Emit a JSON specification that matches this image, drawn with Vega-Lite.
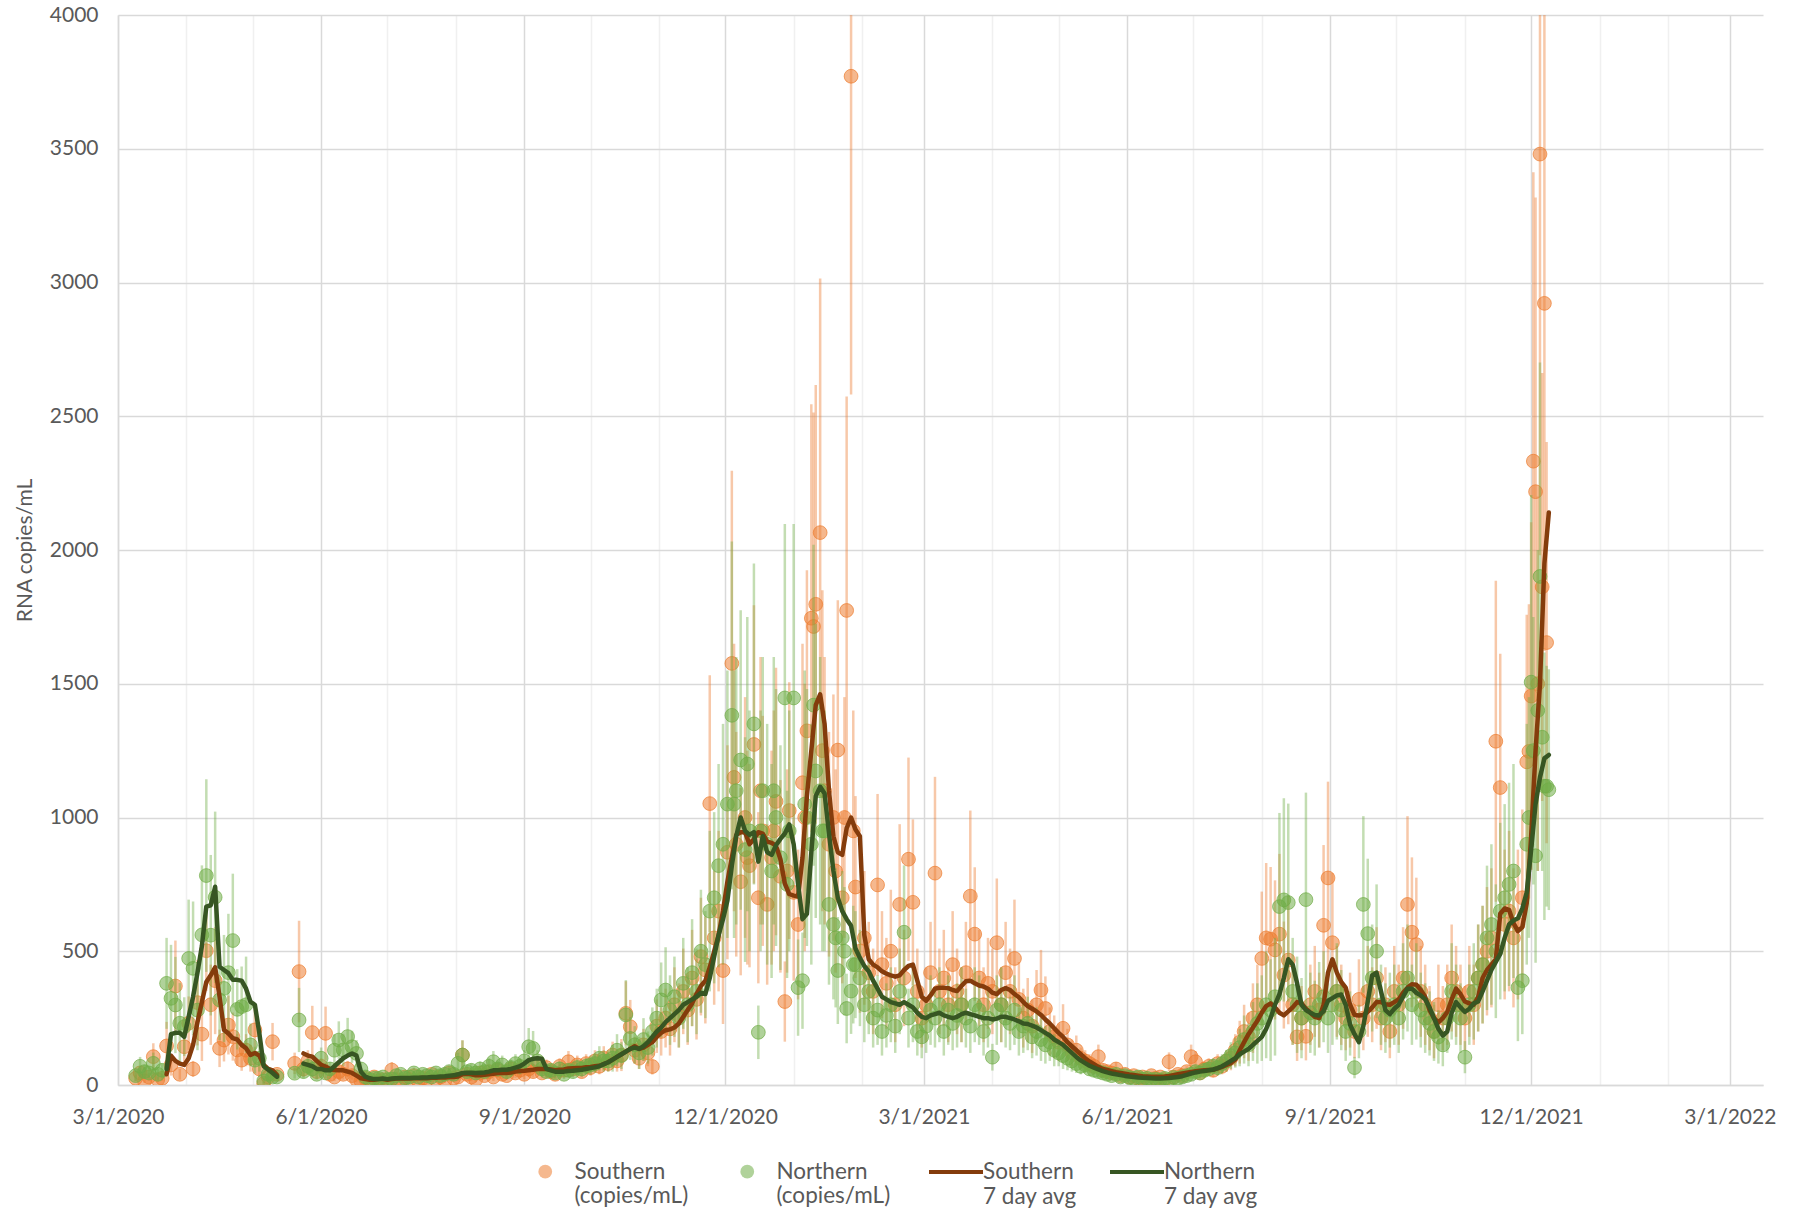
{
"$schema":"https://vega.github.io/schema/vega-lite/v6.json",
"width":1645,"height":1070,
"autosize":{"type":"none"},
"padding":{"left":118,"top":15,"right":36,"bottom":132},
"background":"white",
"config":{"view":{"stroke":null},"font":"Lato"},
"data":{"format":{"parse":{"d":"utc:'%Y-%m-%d'"}},"values":[
{"d":"2020-03-09","s":25,"se":12,"n":35,"ne":20},
{"d":"2020-03-11","s":45,"se":20,"n":70,"ne":35},
{"d":"2020-03-13","s":15,"se":8,"n":50,"ne":25},
{"d":"2020-03-15","s":30,"se":15,"n":45,"ne":20},
{"d":"2020-03-17","s":106,"se":50,"n":81,"ne":40},
{"d":"2020-03-19","s":20,"se":10,"n":40,"ne":20},
{"d":"2020-03-21","s":25,"se":10,"n":55,"ne":25},
{"d":"2020-03-23","s":146,"se":90,"n":380,"ne":170,"sa":40,"na":60},
{"d":"2020-03-25","s":75,"se":40,"n":324,"ne":200,"sa":110,"na":190},
{"d":"2020-03-27","s":370,"se":170,"n":299,"ne":180,"sa":90,"na":195},
{"d":"2020-03-29","s":40,"se":20,"n":231,"ne":150,"sa":80,"na":195},
{"d":"2020-03-31","s":143,"se":60,"n":218,"ne":110,"sa":75,"na":180},
{"d":"2020-04-02","s":231,"se":100,"n":473,"ne":220,"sa":100,"na":255},
{"d":"2020-04-04","s":60,"se":30,"n":436,"ne":250,"sa":150,"na":330},
{"d":"2020-04-06","s":308,"se":160,"n":280,"ne":150,"sa":235,"na":420},
{"d":"2020-04-08","s":190,"se":100,"n":561,"ne":260,"sa":310,"na":520},
{"d":"2020-04-10","s":502,"se":150,"n":783,"ne":360,"sa":385,"na":667},
{"d":"2020-04-12","s":300,"se":150,"n":560,"ne":300,"sa":410,"na":672},
{"d":"2020-04-14","s":390,"se":200,"n":702,"ne":320,"sa":440,"na":741},
{"d":"2020-04-16","s":137,"se":70,"n":318,"ne":150,"sa":330,"na":442},
{"d":"2020-04-18","s":168,"se":80,"n":361,"ne":200,"sa":206,"na":430},
{"d":"2020-04-20","s":224,"se":110,"n":420,"ne":220,"sa":193,"na":418},
{"d":"2020-04-22","s":181,"se":90,"n":540,"ne":250,"sa":175,"na":393},
{"d":"2020-04-24","s":131,"se":60,"n":283,"ne":150,"sa":170,"na":393},
{"d":"2020-04-26","s":93,"se":40,"n":293,"ne":150,"sa":150,"na":390},
{"d":"2020-04-28","s":130,"se":60,"n":300,"ne":180,"sa":137,"na":360},
{"d":"2020-04-30","s":100,"se":50,"n":150,"ne":80,"sa":112,"na":311},
{"d":"2020-05-02","s":206,"se":90,"n":93,"ne":50,"sa":120,"na":300},
{"d":"2020-05-04","s":60,"se":30,"n":100,"ne":50,"sa":110,"na":194},
{"d":"2020-05-06","s":6,"se":5,"n":15,"ne":10,"sa":75,"na":70},
{"d":"2020-05-08","s":30,"se":15,"n":40,"ne":20,"sa":60,"na":57},
{"d":"2020-05-10","s":162,"se":70,"n":30,"ne":15,"sa":55,"na":45},
{"d":"2020-05-12","s":40,"se":20,"n":30,"ne":15,"sa":37,"na":31},
{"d":"2020-05-20","s":81,"se":40,"n":44,"ne":20},
{"d":"2020-05-22","s":424,"se":190,"n":243,"ne":120},
{"d":"2020-05-24","s":60,"se":30,"n":50,"ne":25,"sa":118,"na":80},
{"d":"2020-05-26","s":90,"se":40,"n":70,"ne":30,"sa":110,"na":75},
{"d":"2020-05-28","s":196,"se":100,"n":60,"ne":30,"sa":106,"na":70},
{"d":"2020-05-30","s":50,"se":25,"n":40,"ne":20,"sa":90,"na":60},
{"d":"2020-06-01","s":70,"se":30,"n":100,"ne":40,"sa":75,"na":60},
{"d":"2020-06-03","s":193,"se":100,"n":45,"ne":20,"sa":69,"na":55},
{"d":"2020-06-05","s":40,"se":20,"n":60,"ne":25,"sa":60,"na":55},
{"d":"2020-06-07","s":30,"se":15,"n":130,"ne":60,"sa":56,"na":70},
{"d":"2020-06-09","s":50,"se":25,"n":168,"ne":70,"sa":55,"na":85},
{"d":"2020-06-11","s":40,"se":20,"n":131,"ne":60,"sa":55,"na":100},
{"d":"2020-06-13","s":60,"se":30,"n":181,"ne":70,"sa":50,"na":110},
{"d":"2020-06-15","s":35,"se":15,"n":143,"ne":60,"sa":45,"na":118},
{"d":"2020-06-17","s":20,"se":10,"n":118,"ne":50,"sa":35,"na":110},
{"d":"2020-06-19","s":15,"se":8,"n":60,"ne":25,"sa":25,"na":50},
{"d":"2020-06-21","s":25,"se":10,"n":30,"ne":15,"sa":22,"na":31},
{"d":"2020-06-23","s":10,"se":5,"n":20,"ne":10,"sa":20,"na":25},
{"d":"2020-06-25","s":30,"se":15,"n":25,"ne":10,"sa":20,"na":22},
{"d":"2020-06-27","s":15,"se":8,"n":25,"ne":10,"sa":22,"na":22},
{"d":"2020-06-29","s":20,"se":10,"n":30,"ne":12,"sa":22,"na":24},
{"d":"2020-07-01","s":10,"se":5,"n":20,"ne":10,"sa":20,"na":22},
{"d":"2020-07-03","s":56,"se":30,"n":22,"ne":10,"sa":22,"na":24},
{"d":"2020-07-05","s":20,"se":10,"n":35,"ne":15,"sa":24,"na":25},
{"d":"2020-07-07","s":15,"se":8,"n":40,"ne":18,"sa":24,"na":26},
{"d":"2020-07-09","s":30,"se":15,"n":25,"ne":10,"sa":25,"na":26},
{"d":"2020-07-11","s":20,"se":10,"n":30,"ne":12,"sa":24,"na":26},
{"d":"2020-07-13","s":35,"se":15,"n":45,"ne":20,"sa":25,"na":27},
{"d":"2020-07-15","s":15,"se":8,"n":30,"ne":12,"sa":25,"na":27},
{"d":"2020-07-17","s":25,"se":10,"n":40,"ne":18,"sa":26,"na":28},
{"d":"2020-07-19","s":20,"se":10,"n":35,"ne":15,"sa":25,"na":28},
{"d":"2020-07-21","s":40,"se":18,"n":30,"ne":12,"sa":27,"na":30},
{"d":"2020-07-23","s":20,"se":10,"n":45,"ne":20,"sa":27,"na":30},
{"d":"2020-07-25","s":30,"se":15,"n":35,"ne":15,"sa":28,"na":32},
{"d":"2020-07-27","s":15,"se":8,"n":40,"ne":18,"sa":28,"na":33},
{"d":"2020-07-29","s":45,"se":20,"n":50,"ne":22,"sa":30,"na":35},
{"d":"2020-07-31","s":25,"se":10,"n":40,"ne":18,"sa":30,"na":36},
{"d":"2020-08-02","s":30,"se":15,"n":81,"ne":40,"sa":32,"na":40},
{"d":"2020-08-04","s":112,"se":55,"n":112,"ne":55,"sa":40,"na":45},
{"d":"2020-08-06","s":40,"se":20,"n":50,"ne":22,"sa":42,"na":46},
{"d":"2020-08-08","s":30,"se":15,"n":55,"ne":25,"sa":40,"na":46},
{"d":"2020-08-10","s":20,"se":10,"n":45,"ne":20,"sa":36,"na":45},
{"d":"2020-08-12","s":45,"se":20,"n":60,"ne":28,"sa":36,"na":46},
{"d":"2020-08-14","s":35,"se":15,"n":50,"ne":22,"sa":38,"na":47},
{"d":"2020-08-16","s":50,"se":22,"n":70,"ne":30,"sa":40,"na":50},
{"d":"2020-08-18","s":30,"se":15,"n":87,"ne":40,"sa":42,"na":55},
{"d":"2020-08-20","s":55,"se":25,"n":60,"ne":28,"sa":45,"na":55},
{"d":"2020-08-22","s":40,"se":18,"n":75,"ne":35,"sa":46,"na":57},
{"d":"2020-08-24","s":35,"se":15,"n":50,"ne":22,"sa":45,"na":57},
{"d":"2020-08-26","s":60,"se":28,"n":65,"ne":30,"sa":47,"na":60},
{"d":"2020-08-28","s":45,"se":20,"n":80,"ne":35,"sa":50,"na":65},
{"d":"2020-08-30","s":55,"se":25,"n":70,"ne":30,"sa":52,"na":70},
{"d":"2020-09-01","s":40,"se":18,"n":90,"ne":40,"sa":53,"na":80},
{"d":"2020-09-03","s":60,"se":28,"n":143,"ne":70,"sa":55,"na":93},
{"d":"2020-09-05","s":50,"se":22,"n":137,"ne":65,"sa":57,"na":98},
{"d":"2020-09-07","s":70,"se":30,"n":90,"ne":40,"sa":60,"na":100},
{"d":"2020-09-09","s":45,"se":20,"n":60,"ne":28,"sa":60,"na":98},
{"d":"2020-09-11","s":65,"se":30,"n":50,"ne":22,"sa":60,"na":60},
{"d":"2020-09-13","s":50,"se":22,"n":55,"ne":25,"sa":58,"na":55},
{"d":"2020-09-15","s":40,"se":18,"n":45,"ne":20,"sa":55,"na":50},
{"d":"2020-09-17","s":70,"se":30,"n":60,"ne":28,"sa":57,"na":50},
{"d":"2020-09-19","s":55,"se":25,"n":40,"ne":18,"sa":58,"na":50},
{"d":"2020-09-21","s":87,"se":40,"n":55,"ne":25,"sa":62,"na":52},
{"d":"2020-09-23","s":60,"se":28,"n":50,"ne":22,"sa":63,"na":53},
{"d":"2020-09-25","s":75,"se":35,"n":65,"ne":30,"sa":64,"na":55},
{"d":"2020-09-27","s":50,"se":22,"n":60,"ne":28,"sa":64,"na":57},
{"d":"2020-09-29","s":80,"se":35,"n":70,"ne":30,"sa":66,"na":60},
{"d":"2020-10-01","s":65,"se":30,"n":75,"ne":35,"sa":67,"na":63},
{"d":"2020-10-03","s":90,"se":40,"n":80,"ne":35,"sa":70,"na":66},
{"d":"2020-10-05","s":70,"se":30,"n":100,"ne":45,"sa":72,"na":70},
{"d":"2020-10-07","s":100,"se":45,"n":90,"ne":40,"sa":78,"na":78},
{"d":"2020-10-09","s":80,"se":30,"n":90,"ne":40,"sa":85,"na":85},
{"d":"2020-10-11","s":112,"se":50,"n":100,"ne":50,"sa":95,"na":95},
{"d":"2020-10-13","s":90,"se":40,"n":130,"ne":60,"sa":105,"na":105},
{"d":"2020-10-15","s":112,"se":60,"n":110,"ne":50,"sa":115,"na":115},
{"d":"2020-10-17","s":268,"se":120,"n":262,"ne":130,"sa":125,"na":125},
{"d":"2020-10-19","s":218,"se":100,"n":174,"ne":80,"sa":135,"na":135},
{"d":"2020-10-21","s":130,"se":50,"n":150,"ne":70,"sa":145,"na":140},
{"d":"2020-10-23","s":100,"se":40,"n":120,"ne":60,"sa":135,"na":135},
{"d":"2020-10-25","s":150,"se":60,"n":170,"ne":80,"sa":140,"na":145},
{"d":"2020-10-27","s":120,"se":50,"n":140,"ne":60,"sa":150,"na":160},
{"d":"2020-10-29","s":69,"se":30,"n":200,"ne":90,"sa":160,"na":180},
{"d":"2020-10-31","s":220,"se":100,"n":250,"ne":110,"sa":180,"na":200},
{"d":"2020-11-02","s":200,"se":90,"n":318,"ne":140,"sa":195,"na":215},
{"d":"2020-11-04","s":250,"se":110,"n":355,"ne":160,"sa":205,"na":235},
{"d":"2020-11-06","s":210,"se":100,"n":280,"ne":130,"sa":208,"na":250},
{"d":"2020-11-08","s":300,"se":140,"n":330,"ne":150,"sa":215,"na":265},
{"d":"2020-11-10","s":260,"se":120,"n":250,"ne":110,"sa":230,"na":280},
{"d":"2020-11-12","s":350,"se":160,"n":380,"ne":170,"sa":255,"na":300},
{"d":"2020-11-14","s":280,"se":130,"n":300,"ne":140,"sa":280,"na":310},
{"d":"2020-11-16","s":400,"se":180,"n":420,"ne":200,"sa":305,"na":320},
{"d":"2020-11-18","s":320,"se":150,"n":350,"ne":160,"sa":340,"na":330},
{"d":"2020-11-20","s":480,"se":220,"n":500,"ne":230,"sa":370,"na":345},
{"d":"2020-11-22","s":430,"se":200,"n":450,"ne":200,"sa":390,"na":340},
{"d":"2020-11-24","s":1052,"se":480,"n":650,"ne":300,"sa":440,"na":400},
{"d":"2020-11-26","s":550,"se":250,"n":700,"ne":320,"sa":500,"na":480},
{"d":"2020-11-28","s":650,"se":300,"n":820,"ne":380,"sa":560,"na":560},
{"d":"2020-11-30","s":428,"se":200,"n":900,"ne":450,"sa":650,"na":620},
{"d":"2020-12-02","s":870,"se":400,"n":1050,"ne":500,"sa":760,"na":690},
{"d":"2020-12-04","s":1576,"se":720,"n":1382,"ne":650,"sa":850,"na":820},
{"d":"2020-12-06","s":900,"se":420,"n":1100,"ne":500,"sa":935,"na":930},
{"d":"2020-12-08","s":760,"se":350,"n":1215,"ne":560,"sa":945,"na":1000},
{"d":"2020-12-10","s":1000,"se":450,"n":880,"ne":420,"sa":945,"na":950},
{"d":"2020-12-12","s":820,"se":380,"n":950,"ne":450,"sa":900,"na":935},
{"d":"2020-12-14","s":1273,"se":520,"n":1350,"ne":600,"sa":920,"na":945},
{"d":"2020-12-16","s":700,"se":320,"n":197,"ne":100,"sa":945,"na":835},
{"d":"2020-12-18","s":950,"se":430,"n":1100,"ne":500,"sa":940,"na":930},
{"d":"2020-12-20","s":675,"se":300,"n":900,"ne":450,"sa":910,"na":870},
{"d":"2020-12-22","s":850,"se":400,"n":800,"ne":400,"sa":905,"na":860},
{"d":"2020-12-24","s":1060,"se":500,"n":1000,"ne":480,"sa":895,"na":896},
{"d":"2020-12-26","s":780,"se":360,"n":850,"ne":420,"sa":844,"na":920},
{"d":"2020-12-28","s":312,"se":150,"n":1447,"ne":650,"sa":753,"na":940},
{"d":"2020-12-30","s":1026,"se":480,"n":950,"ne":450,"sa":714,"na":974},
{"d":"2021-01-01","s":720,"se":330,"n":1447,"ne":650,"sa":708,"na":900},
{"d":"2021-01-03","s":600,"se":280,"n":364,"ne":180,"sa":705,"na":750},
{"d":"2021-01-05","s":1130,"se":520,"n":390,"ne":180,"sa":850,"na":620},
{"d":"2021-01-07","s":1324,"se":600,"n":1000,"ne":480,"sa":1080,"na":640},
{"d":"2021-01-09","s":1745,"se":800,"n":900,"ne":450,"sa":1250,"na":870},
{"d":"2021-01-11","s":1797,"se":820,"n":1174,"ne":550,"sa":1420,"na":1080},
{"d":"2021-01-13","s":2065,"se":950,"n":1100,"ne":500,"sa":1460,"na":1115},
{"d":"2021-01-15","s":1100,"se":500,"n":950,"ne":450,"sa":1350,"na":1090},
{"d":"2021-01-17","s":900,"se":420,"n":675,"ne":300,"sa":1100,"na":940},
{"d":"2021-01-19","s":1000,"se":460,"n":600,"ne":280,"sa":930,"na":800},
{"d":"2021-01-21","s":1252,"se":560,"n":428,"ne":200,"sa":870,"na":700},
{"d":"2021-01-23","s":700,"se":320,"n":550,"ne":250,"sa":860,"na":650},
{"d":"2021-01-25","s":1774,"se":800,"n":286,"ne":130,"sa":960,"na":620},
{"d":"2021-01-27","s":3771,"se":1190,"n":351,"ne":160,"sa":1000,"na":595},
{"d":"2021-01-29","s":740,"se":340,"n":450,"ne":200,"sa":955,"na":510},
{"d":"2021-01-31","s":500,"se":230,"n":400,"ne":180,"sa":930,"na":475},
{"d":"2021-02-02","s":550,"se":250,"n":300,"ne":140,"sa":560,"na":445},
{"d":"2021-02-04","s":420,"se":190,"n":350,"ne":160,"sa":470,"na":425},
{"d":"2021-02-06","s":350,"se":160,"n":250,"ne":110,"sa":450,"na":390},
{"d":"2021-02-08","s":748,"se":340,"n":280,"ne":130,"sa":440,"na":360},
{"d":"2021-02-10","s":450,"se":200,"n":200,"ne":90,"sa":425,"na":330},
{"d":"2021-02-12","s":380,"se":170,"n":260,"ne":120,"sa":416,"na":320},
{"d":"2021-02-14","s":500,"se":230,"n":300,"ne":140,"sa":410,"na":310},
{"d":"2021-02-16","s":300,"se":140,"n":220,"ne":100,"sa":405,"na":305},
{"d":"2021-02-18","s":675,"se":300,"n":350,"ne":160,"sa":410,"na":300},
{"d":"2021-02-20","s":400,"se":180,"n":571,"ne":250,"sa":430,"na":310},
{"d":"2021-02-22","s":844,"se":380,"n":250,"ne":110,"sa":445,"na":300},
{"d":"2021-02-24","s":683,"se":310,"n":300,"ne":140,"sa":450,"na":290},
{"d":"2021-02-26","s":350,"se":160,"n":200,"ne":90,"sa":390,"na":270},
{"d":"2021-02-28","s":250,"se":110,"n":180,"ne":80,"sa":330,"na":255},
{"d":"2021-03-02","s":300,"se":140,"n":220,"ne":100,"sa":315,"na":250},
{"d":"2021-03-04","s":420,"se":190,"n":280,"ne":130,"sa":335,"na":260},
{"d":"2021-03-06","s":792,"se":360,"n":250,"ne":110,"sa":360,"na":265},
{"d":"2021-03-08","s":350,"se":160,"n":300,"ne":140,"sa":364,"na":270},
{"d":"2021-03-10","s":400,"se":180,"n":200,"ne":90,"sa":364,"na":260},
{"d":"2021-03-12","s":300,"se":140,"n":280,"ne":130,"sa":362,"na":255},
{"d":"2021-03-14","s":450,"se":200,"n":230,"ne":100,"sa":355,"na":250},
{"d":"2021-03-16","s":350,"se":160,"n":260,"ne":120,"sa":351,"na":255},
{"d":"2021-03-18","s":300,"se":140,"n":300,"ne":140,"sa":370,"na":265},
{"d":"2021-03-20","s":420,"se":190,"n":250,"ne":110,"sa":388,"na":270},
{"d":"2021-03-22","s":706,"se":320,"n":220,"ne":100,"sa":390,"na":265},
{"d":"2021-03-24","s":564,"se":250,"n":300,"ne":140,"sa":380,"na":260},
{"d":"2021-03-26","s":400,"se":180,"n":280,"ne":130,"sa":372,"na":255},
{"d":"2021-03-28","s":300,"se":140,"n":200,"ne":90,"sa":368,"na":250},
{"d":"2021-03-30","s":380,"se":170,"n":250,"ne":110,"sa":360,"na":250},
{"d":"2021-04-01","s":350,"se":160,"n":104,"ne":50,"sa":345,"na":245},
{"d":"2021-04-03","s":532,"se":240,"n":280,"ne":130,"sa":340,"na":248},
{"d":"2021-04-05","s":300,"se":140,"n":300,"ne":140,"sa":355,"na":255},
{"d":"2021-04-07","s":420,"se":190,"n":250,"ne":110,"sa":362,"na":255},
{"d":"2021-04-09","s":350,"se":160,"n":230,"ne":100,"sa":355,"na":250},
{"d":"2021-04-11","s":473,"se":220,"n":280,"ne":130,"sa":340,"na":245},
{"d":"2021-04-13","s":320,"se":140,"n":200,"ne":90,"sa":328,"na":238},
{"d":"2021-04-15","s":250,"se":110,"n":220,"ne":100,"sa":310,"na":230},
{"d":"2021-04-17","s":280,"se":120,"n":230,"ne":100,"sa":295,"na":228},
{"d":"2021-04-19","s":220,"se":100,"n":180,"ne":80,"sa":285,"na":222},
{"d":"2021-04-21","s":300,"se":130,"n":200,"ne":90,"sa":275,"na":215},
{"d":"2021-04-23","s":355,"se":150,"n":170,"ne":80,"sa":262,"na":205},
{"d":"2021-04-25","s":286,"se":120,"n":150,"ne":70,"sa":245,"na":195},
{"d":"2021-04-27","s":200,"se":90,"n":160,"ne":70,"sa":230,"na":185},
{"d":"2021-04-29","s":180,"se":80,"n":130,"ne":60,"sa":212,"na":170},
{"d":"2021-05-01","s":160,"se":70,"n":120,"ne":50,"sa":195,"na":160},
{"d":"2021-05-03","s":212,"se":90,"n":110,"ne":50,"sa":180,"na":150},
{"d":"2021-05-05","s":150,"se":60,"n":100,"ne":45,"sa":160,"na":135},
{"d":"2021-05-07","s":120,"se":50,"n":90,"ne":40,"sa":145,"na":120},
{"d":"2021-05-09","s":130,"se":55,"n":80,"ne":35,"sa":130,"na":105},
{"d":"2021-05-11","s":100,"se":40,"n":70,"ne":30,"sa":115,"na":92},
{"d":"2021-05-13","s":90,"se":40,"n":75,"ne":30,"sa":100,"na":82},
{"d":"2021-05-15","s":80,"se":35,"n":60,"ne":25,"sa":88,"na":72},
{"d":"2021-05-17","s":70,"se":30,"n":55,"ne":25,"sa":78,"na":65},
{"d":"2021-05-19","s":106,"se":45,"n":50,"ne":20,"sa":68,"na":58},
{"d":"2021-05-21","s":55,"se":25,"n":45,"ne":20,"sa":60,"na":52},
{"d":"2021-05-23","s":50,"se":20,"n":40,"ne":18,"sa":56,"na":47},
{"d":"2021-05-25","s":45,"se":20,"n":35,"ne":15,"sa":52,"na":43},
{"d":"2021-05-27","s":60,"se":25,"n":40,"ne":18,"sa":48,"na":40},
{"d":"2021-05-29","s":35,"se":15,"n":30,"ne":12,"sa":45,"na":37},
{"d":"2021-05-31","s":40,"se":18,"n":35,"ne":15,"sa":42,"na":34},
{"d":"2021-06-02","s":30,"se":12,"n":28,"ne":12,"sa":39,"na":32},
{"d":"2021-06-04","s":35,"se":15,"n":25,"ne":10,"sa":37,"na":30},
{"d":"2021-06-06","s":25,"se":10,"n":30,"ne":12,"sa":35,"na":28},
{"d":"2021-06-08","s":30,"se":12,"n":22,"ne":10,"sa":33,"na":27},
{"d":"2021-06-10","s":20,"se":8,"n":25,"ne":10,"sa":32,"na":26},
{"d":"2021-06-12","s":35,"se":15,"n":20,"ne":8,"sa":31,"na":25},
{"d":"2021-06-14","s":25,"se":10,"n":22,"ne":10,"sa":31,"na":24},
{"d":"2021-06-16","s":30,"se":12,"n":18,"ne":8,"sa":31,"na":24},
{"d":"2021-06-18","s":20,"se":8,"n":25,"ne":10,"sa":32,"na":25},
{"d":"2021-06-20","s":87,"se":35,"n":20,"ne":8,"sa":34,"na":26},
{"d":"2021-06-22","s":30,"se":12,"n":28,"ne":12,"sa":37,"na":28},
{"d":"2021-06-24","s":40,"se":18,"n":25,"ne":10,"sa":40,"na":30},
{"d":"2021-06-26","s":35,"se":15,"n":30,"ne":12,"sa":43,"na":33},
{"d":"2021-06-28","s":50,"se":20,"n":35,"ne":15,"sa":46,"na":38},
{"d":"2021-06-30","s":106,"se":45,"n":40,"ne":18,"sa":49,"na":43},
{"d":"2021-07-02","s":87,"se":40,"n":50,"ne":20,"sa":51,"na":47},
{"d":"2021-07-04","s":45,"se":20,"n":45,"ne":20,"sa":53,"na":50},
{"d":"2021-07-06","s":60,"se":25,"n":55,"ne":25,"sa":55,"na":52},
{"d":"2021-07-08","s":70,"se":30,"n":60,"ne":25,"sa":56,"na":55},
{"d":"2021-07-10","s":55,"se":25,"n":70,"ne":30,"sa":57,"na":58},
{"d":"2021-07-12","s":80,"se":35,"n":65,"ne":30,"sa":62,"na":63},
{"d":"2021-07-14","s":70,"se":30,"n":80,"ne":35,"sa":68,"na":70},
{"d":"2021-07-16","s":90,"se":40,"n":90,"ne":40,"sa":75,"na":80},
{"d":"2021-07-18","s":100,"se":45,"n":110,"ne":50,"sa":82,"na":90},
{"d":"2021-07-20","s":130,"se":60,"n":120,"ne":55,"sa":95,"na":100},
{"d":"2021-07-22","s":160,"se":80,"n":140,"ne":70,"sa":130,"na":115},
{"d":"2021-07-24","s":200,"se":100,"n":170,"ne":90,"sa":160,"na":125},
{"d":"2021-07-26","s":180,"se":90,"n":150,"ne":80,"sa":190,"na":135},
{"d":"2021-07-28","s":250,"se":130,"n":200,"ne":110,"sa":215,"na":150},
{"d":"2021-07-30","s":300,"se":150,"n":230,"ne":150,"sa":240,"na":165},
{"d":"2021-08-01","s":473,"se":250,"n":250,"ne":160,"sa":270,"na":180},
{"d":"2021-08-03","s":550,"se":280,"n":300,"ne":200,"sa":295,"na":210},
{"d":"2021-08-05","s":545,"se":270,"n":280,"ne":190,"sa":305,"na":250},
{"d":"2021-08-07","s":505,"se":260,"n":330,"ne":220,"sa":290,"na":300},
{"d":"2021-08-09","s":564,"se":300,"n":667,"ne":350,"sa":270,"na":340},
{"d":"2021-08-11","s":411,"se":200,"n":692,"ne":380,"sa":260,"na":400},
{"d":"2021-08-13","s":467,"se":240,"n":682,"ne":370,"sa":275,"na":470},
{"d":"2021-08-15","s":300,"se":150,"n":350,"ne":200,"sa":290,"na":450},
{"d":"2021-08-17","s":180,"se":90,"n":300,"ne":180,"sa":310,"na":380},
{"d":"2021-08-19","s":250,"se":120,"n":250,"ne":150,"sa":305,"na":300},
{"d":"2021-08-21","s":182,"se":90,"n":693,"ne":400,"sa":285,"na":280},
{"d":"2021-08-23","s":300,"se":150,"n":270,"ne":150,"sa":270,"na":270},
{"d":"2021-08-25","s":350,"se":170,"n":250,"ne":140,"sa":255,"na":262},
{"d":"2021-08-27","s":280,"se":140,"n":300,"ne":160,"sa":250,"na":260},
{"d":"2021-08-29","s":597,"se":300,"n":330,"ne":170,"sa":300,"na":275},
{"d":"2021-08-31","s":774,"se":360,"n":250,"ne":130,"sa":420,"na":315},
{"d":"2021-09-02","s":532,"se":260,"n":300,"ne":150,"sa":470,"na":325},
{"d":"2021-09-04","s":350,"se":170,"n":350,"ne":180,"sa":420,"na":335},
{"d":"2021-09-06","s":300,"se":150,"n":280,"ne":150,"sa":385,"na":338},
{"d":"2021-09-08","s":250,"se":120,"n":200,"ne":110,"sa":364,"na":300},
{"d":"2021-09-10","s":280,"se":140,"n":230,"ne":120,"sa":300,"na":225},
{"d":"2021-09-12","s":200,"se":100,"n":65,"ne":40,"sa":262,"na":190},
{"d":"2021-09-14","s":320,"se":150,"n":200,"ne":100,"sa":260,"na":160},
{"d":"2021-09-16","s":250,"se":120,"n":675,"ne":330,"sa":262,"na":220},
{"d":"2021-09-18","s":350,"se":170,"n":566,"ne":280,"sa":273,"na":312},
{"d":"2021-09-20","s":300,"se":140,"n":400,"ne":200,"sa":290,"na":410},
{"d":"2021-09-22","s":400,"se":190,"n":500,"ne":250,"sa":310,"na":420},
{"d":"2021-09-24","s":250,"se":120,"n":300,"ne":150,"sa":310,"na":350},
{"d":"2021-09-26","s":300,"se":140,"n":250,"ne":130,"sa":302,"na":280},
{"d":"2021-09-28","s":200,"se":100,"n":280,"ne":140,"sa":300,"na":265},
{"d":"2021-09-30","s":350,"se":170,"n":300,"ne":150,"sa":310,"na":285},
{"d":"2021-10-02","s":300,"se":150,"n":250,"ne":130,"sa":320,"na":300},
{"d":"2021-10-04","s":400,"se":190,"n":350,"ne":180,"sa":345,"na":330},
{"d":"2021-10-06","s":675,"se":330,"n":400,"ne":200,"sa":364,"na":360},
{"d":"2021-10-08","s":571,"se":280,"n":300,"ne":150,"sa":377,"na":360},
{"d":"2021-10-10","s":525,"se":250,"n":350,"ne":180,"sa":375,"na":345},
{"d":"2021-10-12","s":350,"se":170,"n":280,"ne":140,"sa":355,"na":335},
{"d":"2021-10-14","s":300,"se":150,"n":250,"ne":130,"sa":330,"na":320},
{"d":"2021-10-16","s":250,"se":120,"n":230,"ne":120,"sa":280,"na":290},
{"d":"2021-10-18","s":200,"se":100,"n":200,"ne":110,"sa":250,"na":250},
{"d":"2021-10-20","s":300,"se":150,"n":180,"ne":100,"sa":234,"na":210},
{"d":"2021-10-22","s":250,"se":120,"n":150,"ne":80,"sa":250,"na":185},
{"d":"2021-10-24","s":300,"se":150,"n":250,"ne":130,"sa":273,"na":200},
{"d":"2021-10-26","s":400,"se":200,"n":350,"ne":180,"sa":320,"na":270},
{"d":"2021-10-28","s":350,"se":170,"n":300,"ne":150,"sa":360,"na":310},
{"d":"2021-10-30","s":300,"se":150,"n":250,"ne":130,"sa":340,"na":290},
{"d":"2021-11-01","s":250,"se":120,"n":104,"ne":60,"sa":312,"na":273},
{"d":"2021-11-03","s":350,"se":170,"n":300,"ne":150,"sa":305,"na":285},
{"d":"2021-11-05","s":300,"se":150,"n":350,"ne":180,"sa":300,"na":305},
{"d":"2021-11-07","s":400,"se":200,"n":400,"ne":200,"sa":330,"na":312},
{"d":"2021-11-09","s":450,"se":220,"n":450,"ne":220,"sa":400,"na":350},
{"d":"2021-11-11","s":500,"se":240,"n":550,"ne":270,"sa":430,"na":390},
{"d":"2021-11-13","s":550,"se":260,"n":600,"ne":300,"sa":450,"na":430},
{"d":"2021-11-15","s":1285,"se":600,"n":500,"ne":250,"sa":470,"na":460},
{"d":"2021-11-17","s":1112,"se":500,"n":650,"ne":330,"sa":640,"na":490},
{"d":"2021-11-19","s":600,"se":280,"n":700,"ne":350,"sa":660,"na":550},
{"d":"2021-11-21","s":650,"se":300,"n":750,"ne":380,"sa":655,"na":600},
{"d":"2021-11-23","s":550,"se":260,"n":800,"ne":400,"sa":605,"na":615},
{"d":"2021-11-25","s":600,"se":280,"n":364,"ne":200,"sa":575,"na":623},
{"d":"2021-11-27","s":700,"se":330,"n":390,"ne":200,"sa":590,"na":660},
{"d":"2021-11-29","s":1208,"se":550,"n":900,"ne":450,"sa":680,"na":720},
{"d":"2021-12-01","s":1454,"se":650,"n":1506,"ne":700,"sa":930,"na":880},
{"d":"2021-12-03","s":2218,"se":1100,"n":857,"ne":400,"sa":1250,"na":1050},
{"d":"2021-12-05","s":3480,"se":1500,"n":1901,"ne":800,"sa":1500,"na":1150},
{"d":"2021-12-07","s":2922,"se":1300,"n":1117,"ne":500,"sa":1950,"na":1221},
{"d":"2021-12-09","n":1104,"ne":450,"sa":2140,"na":1234},
{"d":"2020-12-05","s":1150,"se":500,"n":1050,"ne":500},
{"d":"2020-12-11","s":850,"se":400,"n":1200,"ne":550},
{"d":"2020-12-17","s":1100,"se":500,"n":950,"ne":450},
{"d":"2020-12-23","s":950,"se":450,"n":1100,"ne":500},
{"d":"2020-12-29","s":800,"se":380,"n":750,"ne":350},
{"d":"2021-01-06","s":1000,"se":500,"n":1050,"ne":500},
{"d":"2021-01-10","s":1714,"se":800,"n":1420,"ne":600},
{"d":"2021-01-14","s":1250,"se":600,"n":950,"ne":450},
{"d":"2021-01-20","s":800,"se":380,"n":550,"ne":260},
{"d":"2021-01-24","s":1000,"se":450,"n":500,"ne":240},
{"d":"2021-01-28","s":950,"se":450,"n":450,"ne":220},
{"d":"2021-11-30","s":1247,"se":550,"n":1000,"ne":450},
{"d":"2021-12-02","s":2332,"se":1080,"n":1250,"ne":500},
{"d":"2021-12-04","s":1500,"se":700,"n":1400,"ne":600},
{"d":"2021-12-06","s":1862,"se":800,"n":1300,"ne":500},
{"d":"2021-12-08","s":1654,"se":750,"n":1117,"ne":450}
]},
"encoding":{
 "x":{"field":"d","type":"temporal",
  "scale":{"type":"utc","domain":[{"year":2020,"month":3,"date":1,"utc":true},{"year":2022,"month":3,"date":16,"utc":true}]},
  "axis":{"title":null,"ticks":false,"labelOverlap":false,"labelFlush":false,"labelPadding":21,"labelFont":"Lato","labelFontSize":21,"labelColor":"#595959","domainColor":"#d9d9d9","domainWidth":1.5,"gridWidth":1.5,
   "values":[{"year":2020,"month":3,"date":1,"utc":true},{"year":2020,"month":4,"date":1,"utc":true},{"year":2020,"month":5,"date":1,"utc":true},{"year":2020,"month":6,"date":1,"utc":true},{"year":2020,"month":7,"date":1,"utc":true},{"year":2020,"month":8,"date":1,"utc":true},{"year":2020,"month":9,"date":1,"utc":true},{"year":2020,"month":10,"date":1,"utc":true},{"year":2020,"month":11,"date":1,"utc":true},{"year":2020,"month":12,"date":1,"utc":true},{"year":2021,"month":1,"date":1,"utc":true},{"year":2021,"month":2,"date":1,"utc":true},{"year":2021,"month":3,"date":1,"utc":true},{"year":2021,"month":4,"date":1,"utc":true},{"year":2021,"month":5,"date":1,"utc":true},{"year":2021,"month":6,"date":1,"utc":true},{"year":2021,"month":7,"date":1,"utc":true},{"year":2021,"month":8,"date":1,"utc":true},{"year":2021,"month":9,"date":1,"utc":true},{"year":2021,"month":10,"date":1,"utc":true},{"year":2021,"month":11,"date":1,"utc":true},{"year":2021,"month":12,"date":1,"utc":true},{"year":2022,"month":1,"date":1,"utc":true},{"year":2022,"month":2,"date":1,"utc":true},{"year":2022,"month":3,"date":1,"utc":true}],
   "labelExpr":"utcmonth(datum.value) % 3 == 2 ? utcFormat(datum.value, '%-m/%-d/%Y') : ''",
   "gridColor":{"condition":{"test":"utcmonth(datum.value) % 3 == 2","value":"#d9d9d9"},"value":"#f0f0f0"}}}
},
"layer":[
 {"transform":[{"filter":"isValid(datum.s) && isValid(datum.se)"}],
  "mark":{"type":"errorbar","color":"#ED7D31","opacity":0.42,"thickness":2.5,"clip":true},
  "encoding":{"y":{"field":"s","type":"quantitative","title":"RNA copies/mL",
    "scale":{"domain":[0,4000],"nice":false,"zero":true},
    "axis":{"values":[0,500,1000,1500,2000,2500,3000,3500,4000],"format":"d","ticks":false,"labelPadding":20,"labelFont":"Lato","labelFontSize":21,"labelColor":"#595959","gridColor":"#d9d9d9","gridWidth":1.5,"domainColor":"#d9d9d9","domainWidth":1.5,"titleFont":"Lato","titleFontSize":21,"titleFontWeight":"normal","titleColor":"#595959","titlePadding":14}},
   "yError":{"field":"se"}}},
 {"mark":{"type":"point","filled":true,"size":190,"fillOpacity":0.55,"stroke":"#ED7D31","strokeOpacity":0.7,"strokeWidth":1,"clip":true},
  "encoding":{"y":{"field":"s","type":"quantitative","title":"RNA copies/mL"},
   "color":{"datum":"Southern|(copies/mL)","type":"nominal",
    "scale":{"domain":["Southern|(copies/mL)","Northern|(copies/mL)"],"range":["#ED7D31","#70AD47"]},
    "legend":{"orient":"none","legendX":416,"legendY":1145,"direction":"horizontal","title":null,"padding":0,
     "labelExpr":"split(datum.label, '|')","labelFont":"Lato","labelFontSize":22.5,"labelColor":"#595959","labelBaseline":"middle","labelOffset":18,"columnPadding":47,
     "symbolType":"circle","symbolSize":190,"symbolOpacity":0.55,"symbolStrokeWidth":0}}}},
 {"transform":[{"filter":"isValid(datum.n) && isValid(datum.ne)"}],
  "mark":{"type":"errorbar","color":"#70AD47","opacity":0.42,"thickness":2.5,"clip":true},
  "encoding":{"y":{"field":"n","type":"quantitative","title":"RNA copies/mL"},"yError":{"field":"ne"}}},
 {"mark":{"type":"point","filled":true,"size":190,"fillOpacity":0.55,"stroke":"#70AD47","strokeOpacity":0.7,"strokeWidth":1,"clip":true},
  "encoding":{"y":{"field":"n","type":"quantitative","title":"RNA copies/mL"},
   "color":{"datum":"Northern|(copies/mL)","type":"nominal"}}},
 {"transform":[{"filter":"isValid(datum.sa) && datum.d < utc(2020,4,16)"}],
  "mark":{"type":"line","strokeWidth":4.5,"strokeJoin":"round","strokeCap":"round","clip":true},
  "encoding":{"y":{"field":"sa","type":"quantitative","title":"RNA copies/mL"},
   "stroke":{"datum":"Southern|7 day avg","type":"nominal",
    "scale":{"domain":["Southern|7 day avg","Northern|7 day avg"],"range":["#843C0C","#375623"]},
    "legend":{"orient":"none","legendX":809,"legendY":1128,"direction":"horizontal","title":null,"padding":0,
     "labelExpr":"split(datum.label, '|')","labelFont":"Lato","labelFontSize":22.5,"labelColor":"#595959","labelBaseline":"middle","labelOffset":-2,"columnPadding":25,
     "symbolType":"stroke","symbolSize":2916,"symbolStrokeWidth":4}}}},
 {"transform":[{"filter":"isValid(datum.sa) && datum.d > utc(2020,4,16)"}],
  "mark":{"type":"line","strokeWidth":4.5,"strokeJoin":"round","strokeCap":"round","clip":true},
  "encoding":{"y":{"field":"sa","type":"quantitative","title":"RNA copies/mL"},
   "stroke":{"datum":"Southern|7 day avg","type":"nominal"}}},
 {"transform":[{"filter":"isValid(datum.na) && datum.d < utc(2020,4,16)"}],
  "mark":{"type":"line","strokeWidth":4.5,"strokeJoin":"round","strokeCap":"round","clip":true},
  "encoding":{"y":{"field":"na","type":"quantitative","title":"RNA copies/mL"},
   "stroke":{"datum":"Northern|7 day avg","type":"nominal"}}},
 {"transform":[{"filter":"isValid(datum.na) && datum.d > utc(2020,4,16)"}],
  "mark":{"type":"line","strokeWidth":4.5,"strokeJoin":"round","strokeCap":"round","clip":true},
  "encoding":{"y":{"field":"na","type":"quantitative","title":"RNA copies/mL"},
   "stroke":{"datum":"Northern|7 day avg","type":"nominal"}}}
]
}
